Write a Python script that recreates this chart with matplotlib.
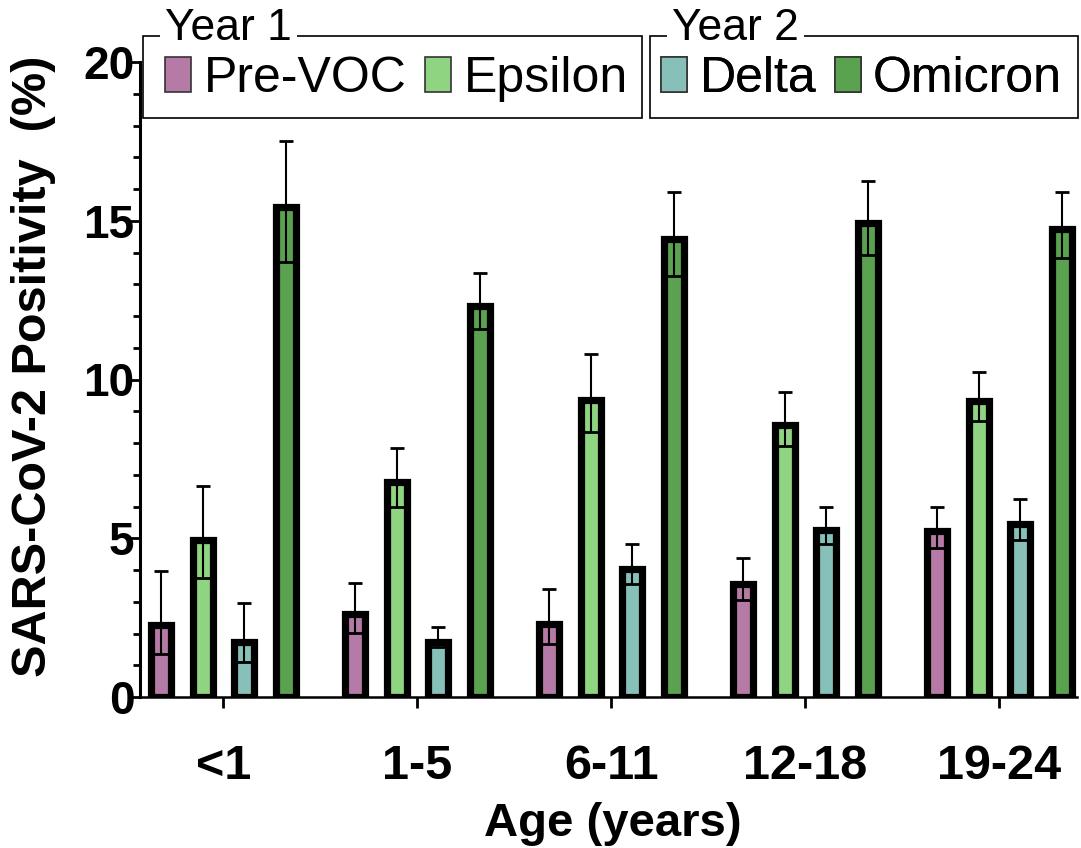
import matplotlib.pyplot as plt
import numpy as np
from matplotlib.patches import Patch, Rectangle

plt.rcParams['font.family'] = ['Liberation Sans', 'DejaVu Sans']

# age groups and variants
ages = ['<1', '1-5', '6-11', '12-18', '19-24']
variants = ['Pre-VOC', 'Epsilon', 'Delta', 'Omicron']
colors = ['#b57ba6', '#8fd480', '#86c0b8', '#5aa250']

# positivity (%) per variant, one value per age group
pre_voc = [2.28, 2.61, 2.29, 3.56, 5.22]
epsilon = [4.94, 6.76, 9.37, 8.57, 9.33]
delta = [1.74, 1.73, 4.04, 5.25, 5.45]
omicron = [15.44, 12.32, 14.43, 14.93, 14.74]

# upper / lower ends of the error bars
pre_voc_hi = [3.97, 3.60, 3.39, 4.39, 5.99]
pre_voc_lo = [1.34, 2.01, 1.66, 3.04, 4.70]
epsilon_hi = [6.64, 7.83, 10.81, 9.62, 10.25]
epsilon_lo = [3.75, 5.99, 8.35, 7.91, 8.70]
delta_hi = [2.95, 2.21, 4.81, 5.97, 6.23]
delta_lo = [1.10, 1.58, 3.56, 4.81, 4.96]
omicron_hi = [17.52, 13.36, 15.90, 16.25, 15.92]
omicron_lo = [13.71, 11.58, 13.27, 13.93, 13.84]

series = [(pre_voc, pre_voc_lo, pre_voc_hi),
          (epsilon, epsilon_lo, epsilon_hi),
          (delta, delta_lo, delta_hi),
          (omicron, omicron_lo, omicron_hi)]

W, H = 1081, 848
fig = plt.figure(figsize=(W/100, H/100), dpi=100)
ax = fig.add_axes([140/W, 1-697/H, (1077-140)/W, (697-62)/H])

x = np.arange(len(ages))
step = 0.214
width = 0.103
for i, (vals, lo, hi) in enumerate(series):
    vals = np.array(vals)
    pos = x + (i - 1.5) * step
    ax.bar(pos, vals, width, color=colors[i], edgecolor='black', linewidth=5.2, zorder=2)
    yerr = [vals - np.array(lo), np.array(hi) - vals]
    ax.errorbar(pos, vals, yerr=yerr, fmt='none', ecolor='black', elinewidth=1.5,
                capsize=5, capthick=2, zorder=3)

ax.set_xlim(-0.43, 4.4)
ax.set_ylim(0, 20)
ax.set_yticks([0, 5, 10, 15, 20])
ax.set_yticks(np.arange(0, 21, 1), minor=True)
ax.set_xticks(x)
ax.set_xticklabels(ages, fontsize=35, fontweight='bold')
for lab in ax.get_yticklabels():
    lab.set_fontsize(33)
    lab.set_fontweight('bold')

for s in ['top', 'right']:
    ax.spines[s].set_visible(False)
ax.spines['left'].set_linewidth(2.2)
ax.spines['bottom'].set_linewidth(1.8)
ax.tick_params(axis='y', which='major', length=7, width=2, pad=-3)
ax.tick_params(axis='y', which='minor', length=5, width=2)
ax.tick_params(axis='x', which='major', length=8, width=2, pad=26)

ax.set_ylabel('SARS-CoV-2 Positivity  (%)', fontsize=35, fontweight='bold')
ax.yaxis.set_label_coords(-0.09, 0.52)
ax.set_xlabel('Age (years)', fontsize=34, fontweight='bold')
ax.xaxis.set_label_coords(0.505, -0.166)
ax.xaxis.label.set_va('top')

# two framed legends, one per year; title sits on the frame line
handles = [Patch(facecolor=c, edgecolor='#333333', linewidth=1.2) for c in colors]
boxes = [(143, 642, 165, 628, 'Year 1', [0, 1]),
         (650, 1078, 661, 1062, 'Year 2', [2, 3])]
for bx0, bx1, ex0, ex1, title, idx in boxes:
    fig.add_artist(Rectangle((bx0/W, 1-118/H), (bx1-bx0)/W, 82/H, transform=fig.transFigure,
                             facecolor='none', edgecolor='black', linewidth=1.2, zorder=1))
    leg = ax.legend([handles[k] for k in idx], [variants[k] for k in idx],
                    loc='center left', ncol=2, mode='expand',
                    bbox_to_anchor=(ex0/W, 1-79/H, (ex1-ex0)/W, 0),
                    bbox_transform=fig.transFigure, fontsize=36,
                    frameon=False, handlelength=0.52, handleheight=0.7,
                    handletextpad=0.25, borderpad=0, borderaxespad=0, columnspacing=0.4)
    ax.add_artist(leg)
    fig.text((bx0+22)/W, 1-29/H, title, fontsize=32, va='center', ha='left', zorder=3,
             bbox=dict(facecolor='white', edgecolor='none', pad=4))

fig.savefig('out.png', dpi=100)
